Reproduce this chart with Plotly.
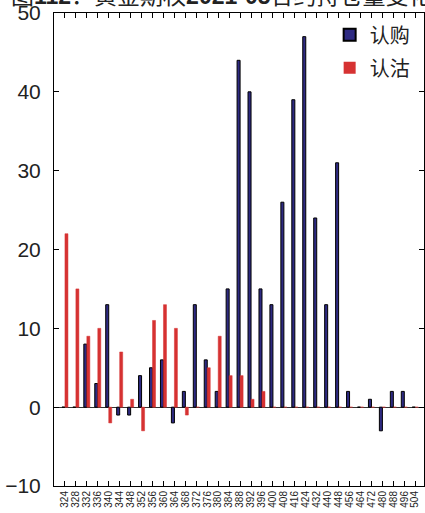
import plotly.graph_objects as go

strikes = ["324", "328", "332", "336", "340", "344", "348", "352", "356", "360",
           "364", "368", "372", "376", "380", "384", "388", "392", "396", "400",
           "408", "416", "424", "432", "440", "448", "456", "464", "472", "480",
           "488", "496", "504"]
call_chg = [0, 0, 8, 3, 13, -1, -1, 4, 5, 6,
            -2, 2, 13, 6, 2, 15, 44, 40, 15, 13,
            26, 39, 47, 24, 13, 31, 2, 0, 1, -3,
            2, 2, 0]
put_chg = [22, 15, 9, 10, -2, 7, 1, -3, 11, 13,
           10, -1, 0, 5, 9, 4, 4, 1, 2, 0,
           0, 0, 0, 0, 0, 0, 0, 0, 0, 0,
           0, 0, 0]
y_ticks = [-10, 0, 10, 20, 30, 40, 50]

BLUE = "#2E2A82"
RED = "#D63232"
FONT = "Liberation Sans, Arial, Noto Sans CJK SC, sans-serif"

fig = go.Figure()
fig.add_trace(go.Bar(x=strikes, y=call_chg, name="认购", marker=dict(color=BLUE, line=dict(color="#000000", width=1)), showlegend=False))
fig.add_trace(go.Bar(x=strikes, y=put_chg, name="认沽", marker=dict(color=RED, line=dict(color=RED, width=0.5)), showlegend=False))
# legend entries
fig.add_trace(go.Scatter(x=[None], y=[None], mode="markers", name="认购", legendgroup="a",
                         marker=dict(symbol="square", size=16, color=BLUE, line=dict(color="#000", width=1))))
fig.add_trace(go.Scatter(x=[None], y=[None], mode="markers", name="认沽", legendgroup="b",
                         marker=dict(symbol="square", size=16, color=RED, line=dict(color=RED, width=0))))

fig.update_layout(
    width=425, height=513,
    margin=dict(l=54, r=1, t=13, b=27, autoexpand=False),
    paper_bgcolor="white", plot_bgcolor="white",
    font=dict(family=FONT, color="#222"),
    barmode="group", bargap=0.45, bargroupgap=0,
    showlegend=True,
    legend=dict(x=0.745, y=0.995, xanchor="left", yanchor="top", bgcolor="rgba(0,0,0,0)",
                font=dict(size=20, family="Noto Sans CJK SC"), itemsizing="constant",
                tracegroupgap=4, itemwidth=30),
    annotations=[dict(
        text="图<b>112</b>：黄金期权<b>2021-05</b>合约持仓量变化",
        xref="paper", yref="paper", x=-0.122, y=1.004, xanchor="left", yanchor="bottom",
        showarrow=False, font=dict(size=23, family=FONT, color="#222"))],
)
fig.update_xaxes(
    type="category", range=[-1.0, 32.8], automargin=False,
    tickmode="array", tickvals=strikes, ticktext=strikes,
    showline=True, linecolor="#000", linewidth=1, mirror="ticks",
    ticks="inside", ticklen=5, tickcolor="#000",
    tickangle=-90, tickfont=dict(size=10, family=FONT, color="#222"),
    showgrid=False, zeroline=False,
)
fig.update_yaxes(
    range=[-10, 50], tickvals=y_ticks, automargin=False,
    showline=True, linecolor="#000", linewidth=1, mirror="ticks",
    ticks="inside", ticklen=5, tickcolor="#000",
    tickfont=dict(size=21, family=FONT, color="#222"), ticklabelstandoff=8,
    showgrid=False, zeroline=True, zerolinecolor="#333", zerolinewidth=1,
)

fig.write_html("out.html", config={"displayModeBar": False},
               post_script="document.body.style.margin='0';")
